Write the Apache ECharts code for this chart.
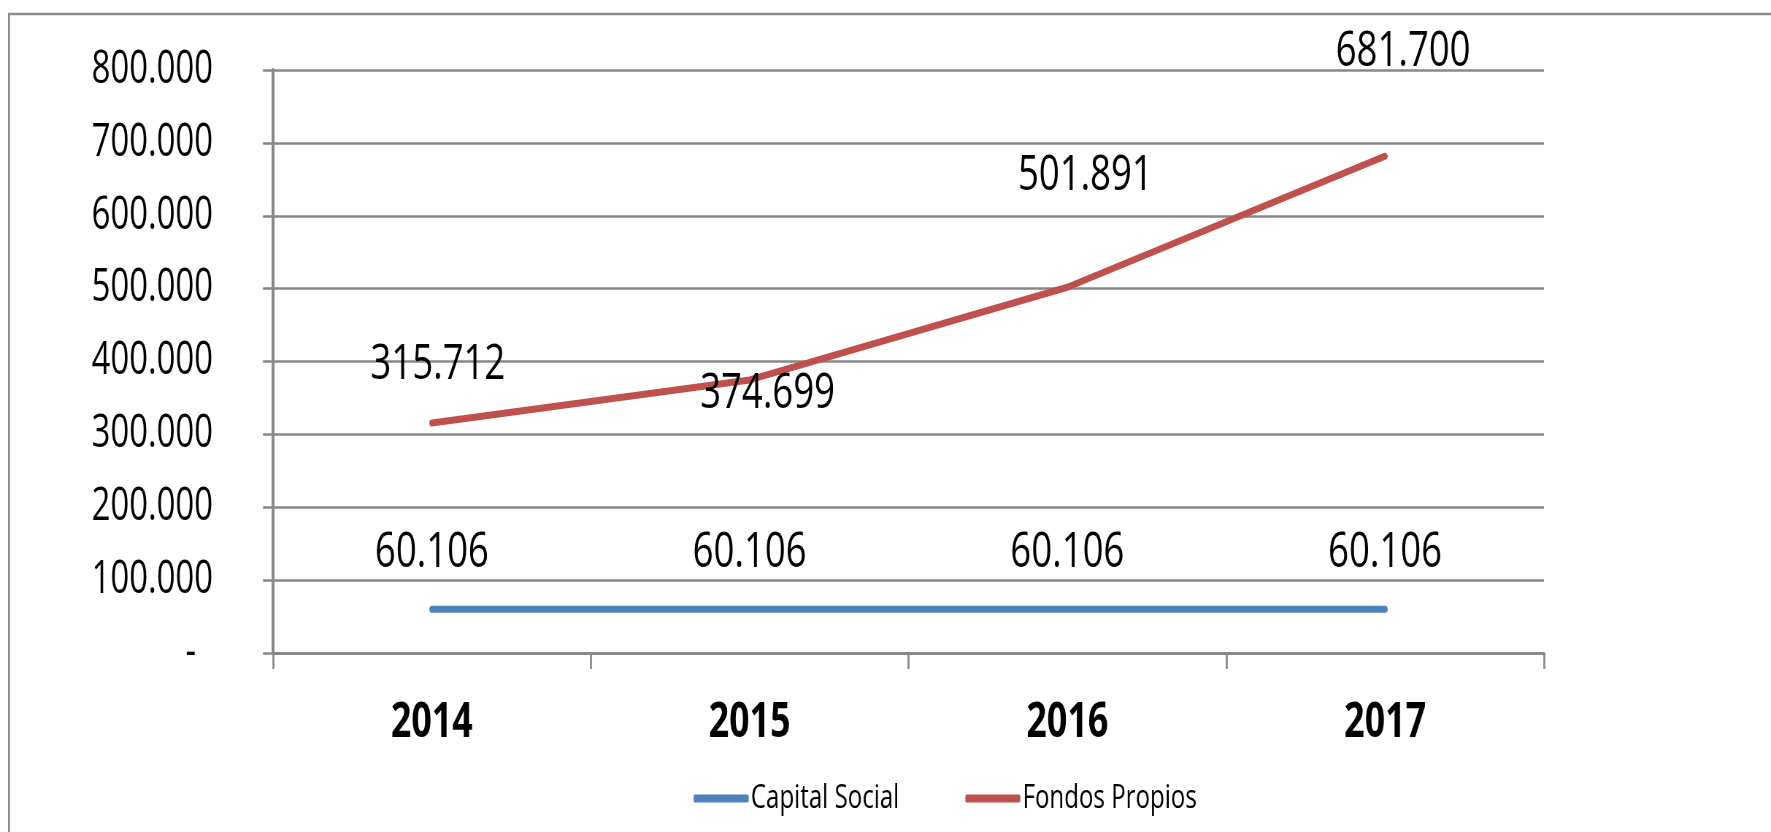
<!DOCTYPE html>
<html>
<head>
<meta charset="utf-8">
<script src="https://cdn.jsdelivr.net/npm/echarts@6/dist/echarts.min.js"></script>
<style>
html,body{margin:0;padding:0;background:#fff;overflow:hidden;}
#wrap{width:1771px;height:832px;overflow:hidden;position:relative;}
#c{height:832px;position:absolute;left:0;top:0;transform-origin:0 0;}
</style>
</head>
<body>
<div id="wrap"><div id="c"></div></div>
<script>
const categories = ['2014', '2015', '2016', '2017'];
const capitalSocial = [60106, 60106, 60106, 60106];
const fondosPropios = [315712, 374699, 501891, 681700];
const seriesNames = ['Capital Social', 'Fondos Propios'];
const yTicks = [0, 100000, 200000, 300000, 400000, 500000, 600000, 700000, 800000];

// The reference uses a condensed face; the canvas is drawn wider and squeezed horizontally.
const S = 0.73;
const W = 1771, H = 832;
const el = document.getElementById('c');
el.style.width = (W / S) + 'px';
el.style.transform = 'scaleX(' + S + ')';
const X = function (px) { return px / S; };   // actual horizontal px -> canvas px

const FONT = "'Open Sans', 'Noto Sans', 'Liberation Sans', sans-serif";

function fmt(v) {
  return String(Math.round(v)).replace(/\B(?=(\d{3})+(?!\d))/g, '.');
}

// label placement relative to each point (presentation only, actual px)
const blueLabelOffsets = [[0, -56], [0, -56], [0, -56], [0, -56]];
const redLabelOffsets = [[6, -58], [18, 14], [18, -111], [18, -104]];

const chart = echarts.init(el);
chart.setOption({
  backgroundColor: '#fff',
  animation: false,
  graphic: [{
    type: 'rect',
    shape: { x: X(9), y: 14, width: X(1900), height: 900 },
    style: { fill: 'none', stroke: '#8c8c8c', lineWidth: 2.6 },
    silent: true
  }],
  grid: { left: X(273), right: X(W - 1544), top: 70, bottom: H - 653, containLabel: false },
  legend: {
    left: X(690), top: 777,
    itemWidth: X(55), itemHeight: 8, itemGap: X(66),
    icon: 'roundRect',
    textStyle: { fontFamily: FONT, fontSize: 33, color: '#000', padding: [0, 0, 0, -2] },
    data: seriesNames
  },
  xAxis: {
    type: 'category',
    data: categories,
    boundaryGap: true,
    axisLine: { lineStyle: { color: '#888888', width: 3 } },
    axisTick: { show: true, length: 16, lineStyle: { color: '#888888', width: 2.7 } },
    axisLabel: { fontFamily: FONT, fontSize: 49, fontWeight: 'bold', color: '#000', margin: 46 },
    splitLine: { show: false }
  },
  yAxis: {
    type: 'value',
    min: yTicks[0], max: yTicks[yTicks.length - 1], interval: yTicks[1] - yTicks[0],
    axisLine: { show: true, lineStyle: { color: '#888888', width: 4 } },
    axisTick: { show: true, length: X(10), lineStyle: { color: '#888888', width: 2.5 } },
    splitLine: { show: true, lineStyle: { color: '#888888', width: 2.5 } },
    axisLabel: {
      fontFamily: FONT, fontSize: 45, color: '#000', margin: X(60),
      formatter: function (v) { return v === 0 ? '{d|-}' : fmt(v); },
      rich: { d: { fontFamily: FONT, fontSize: 45, color: '#000', padding: [0, X(17), 0, 0] } }
    }
  },
  series: [
    {
      name: seriesNames[0],
      type: 'line',
      data: capitalSocial.map(function (v, i) {
        return { value: v, label: { offset: [X(blueLabelOffsets[i][0]), blueLabelOffsets[i][1]] } };
      }),
      symbol: 'circle',
      symbolSize: 1,
      showSymbol: true,
      color: '#4F81BD',
      itemStyle: { color: '#4F81BD' },
      lineStyle: { color: '#4F81BD', width: 7, cap: 'round', join: 'round' },
      label: {
        show: true, position: 'inside',
        fontFamily: FONT, fontSize: 50, color: '#000',
        formatter: function (p) { return fmt(p.value); }
      },
      z: 3
    },
    {
      name: seriesNames[1],
      type: 'line',
      data: fondosPropios.map(function (v, i) {
        return { value: v, label: { offset: [X(redLabelOffsets[i][0]), redLabelOffsets[i][1]] } };
      }),
      symbol: 'circle',
      symbolSize: 1,
      showSymbol: true,
      color: '#C0504D',
      itemStyle: { color: '#C0504D' },
      lineStyle: { color: '#C0504D', width: 7, cap: 'round', join: 'round' },
      label: {
        show: true, position: 'inside',
        fontFamily: FONT, fontSize: 50, color: '#000',
        formatter: function (p) { return fmt(p.value); }
      },
      z: 3
    }
  ]
});
</script>
</body>
</html>
